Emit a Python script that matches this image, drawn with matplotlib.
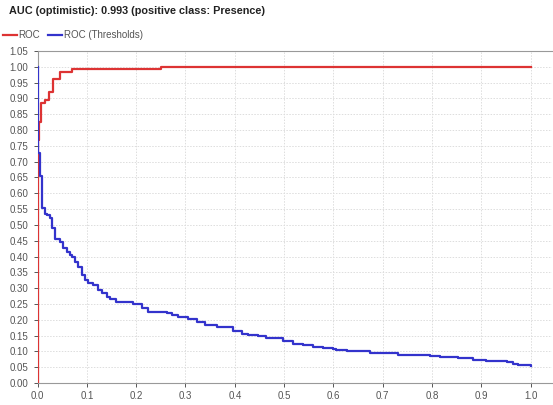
import matplotlib
matplotlib.use("Agg")
import matplotlib.pyplot as plt
from matplotlib.lines import Line2D

plt.rcParams['font.family'] = ['Liberation Sans', 'DejaVu Sans']

title_text = "AUC (optimistic): 0.993 (positive class: Presence)"
legend_labels = ["ROC", "ROC (Thresholds)"]

# ROC curve (false positive rate, true positive rate), step corners
roc_fpr = [0.0, 0.0, 0.004, 0.008, 0.015, 0.024, 0.031, 0.046, 0.069, 0.25, 1.0]
roc_tpr = [0.0, 0.77, 0.826, 0.885, 0.895, 0.919, 0.96, 0.985, 0.992, 1.0, 1.0]

# Threshold curve, step corners
thr_fpr = [0.0, 0.0, 0.005, 0.009, 0.016, 0.019, 0.025, 0.029, 0.035, 0.046,
           0.052, 0.059, 0.066, 0.069, 0.076, 0.083, 0.090, 0.096, 0.103,
           0.113, 0.123, 0.130, 0.140, 0.147, 0.160, 0.181, 0.194, 0.211,
           0.225, 0.242, 0.262, 0.272, 0.285, 0.306, 0.323, 0.339, 0.363,
           0.383, 0.397, 0.414, 0.427, 0.447, 0.464, 0.498, 0.518, 0.539,
           0.559, 0.579, 0.599, 0.606, 0.627, 0.647, 0.674, 0.714, 0.731,
           0.762, 0.795, 0.816, 0.853, 0.883, 0.910, 0.951, 0.964, 0.974,
           1.0]
thr_val = [1.0, 0.726, 0.655, 0.552, 0.535, 0.531, 0.522, 0.49, 0.457, 0.447,
           0.427, 0.415, 0.405, 0.40, 0.384, 0.368, 0.342, 0.326, 0.315,
           0.31, 0.294, 0.284, 0.273, 0.265, 0.257, 0.257, 0.250, 0.236,
           0.226, 0.224, 0.220, 0.215, 0.208, 0.203, 0.194, 0.183, 0.178,
           0.176, 0.165, 0.155, 0.152, 0.149, 0.141, 0.134, 0.123, 0.120,
           0.115, 0.110, 0.107, 0.104, 0.101, 0.101, 0.096, 0.094, 0.089,
           0.089, 0.086, 0.081, 0.078, 0.073, 0.070, 0.067, 0.060, 0.057,
           0.055]

x_ticks = [i / 10 for i in range(11)]
y_ticks = [i * 0.05 for i in range(22)]

red = '#dd3333'
blue = '#3333cc'
tick_color = '#555555'

fig = plt.figure(figsize=(5.53, 4.05), dpi=100)
ax = fig.add_axes([37.5 / 553, 22 / 405, 514 / 553, 332 / 405])

ax.plot(roc_fpr, roc_tpr, drawstyle='steps-post', color=red, lw=1.6, zorder=3)
ax.plot(thr_fpr, thr_val, drawstyle='steps-post', color=blue, lw=1.6, zorder=3)

ax.set_xlim(0, 1.042)
ax.set_ylim(0, 1.05)
ax.set_xticks(x_ticks)
ax.set_xticklabels([f"{v:.1f}" for v in x_ticks])
ax.set_yticks(y_ticks)
ax.set_yticklabels([f"{v:.2f}" for v in y_ticks])
ax.tick_params(labelsize=7, colors=tick_color, length=3, width=0.7)
ax.tick_params(axis='x', pad=2.5)
ax.grid(True, color='#dddddd', linestyle=(0, (1.5, 1.5)), linewidth=0.7)
for side in ['left', 'bottom', 'top']:
    ax.spines[side].set_color('#999999')
    ax.spines[side].set_linewidth(0.8)
ax.spines['right'].set_visible(False)

fig.text(9 / 553, 1 - 11 / 405, title_text, fontsize=7.8, fontweight='bold',
         va='center', ha='left', color='#222222')

handles = [Line2D([0], [0], color=red, lw=1.6),
           Line2D([0], [0], color=blue, lw=1.6)]
fig.legend(handles, legend_labels, loc='center left',
           bbox_to_anchor=(3 / 553, 1 - 35 / 405), ncol=2, frameon=False,
           fontsize=7, handlelength=1.4, handletextpad=0.2, columnspacing=0.8,
           labelcolor='#555555', borderpad=0.0, borderaxespad=0.0)

fig.savefig('out.png', dpi=100)
